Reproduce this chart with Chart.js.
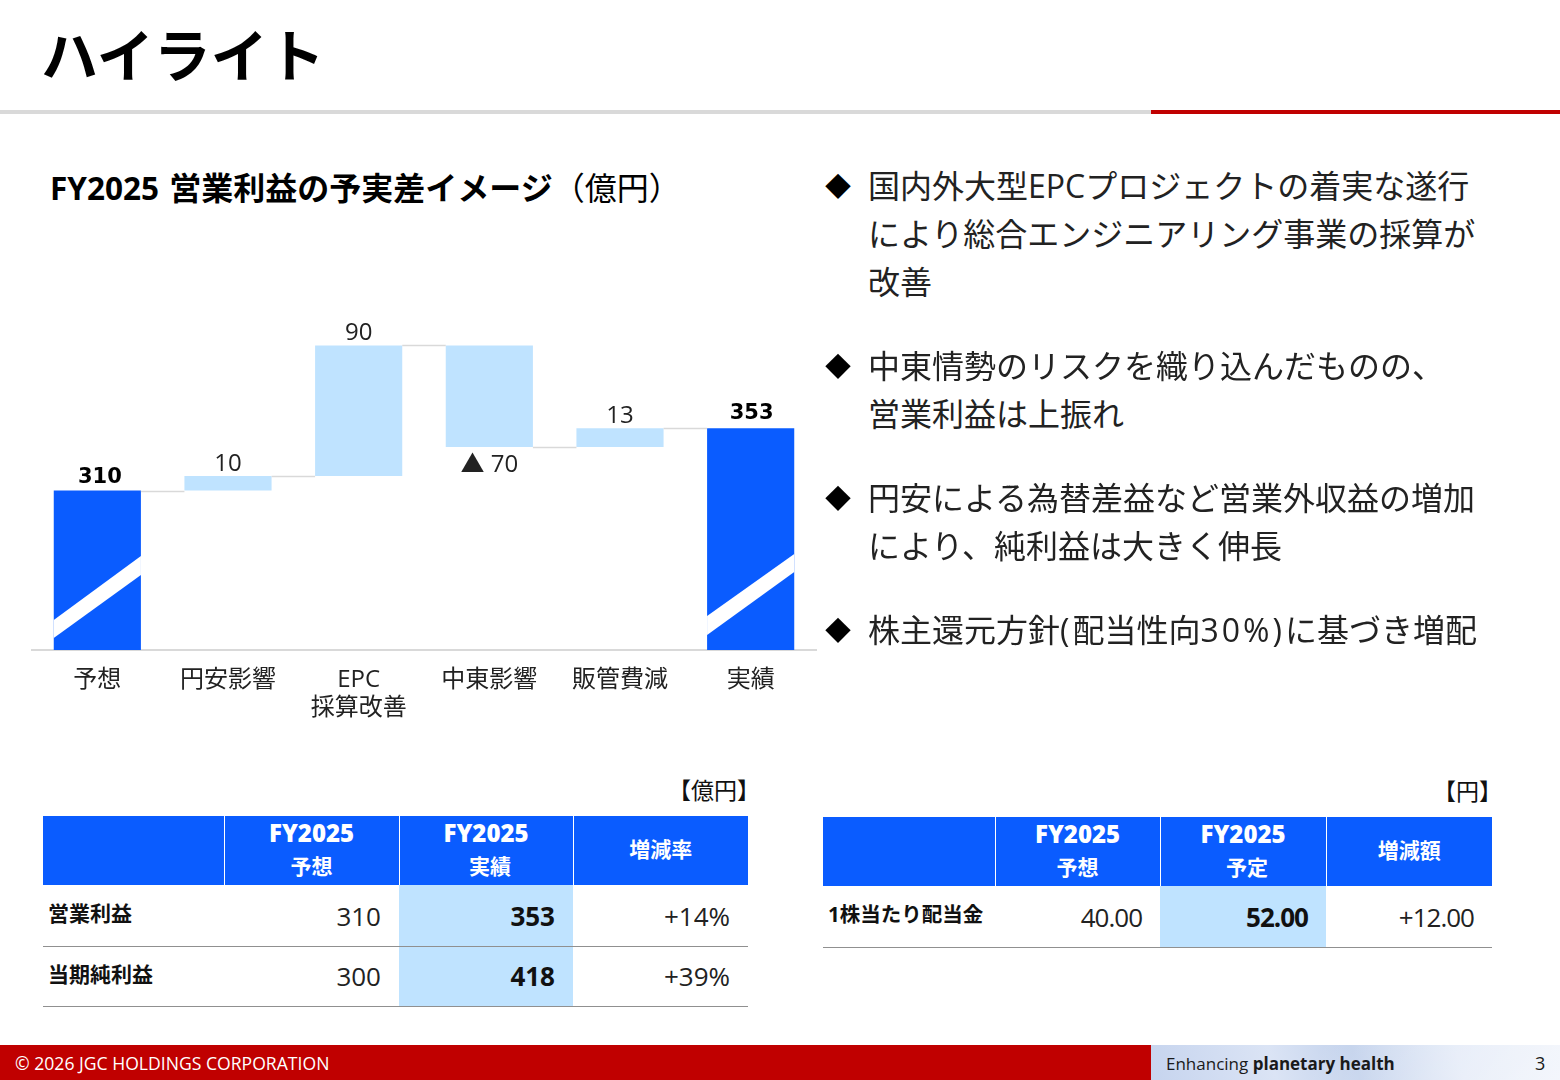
<!DOCTYPE html>
<html lang="ja">
<head>
<meta charset="utf-8">
<title>ハイライト</title>
<script src="https://cdn.jsdelivr.net/npm/chart.js@4/dist/chart.umd.min.js"></script>
<style>
html, body { margin: 0; padding: 0; background: #fff; }
body { width: 1560px; height: 1080px; position: relative; overflow: hidden; color: #1a1a1a;
  font-family: "Open Sans", "Noto Sans CJK JP", sans-serif; }
.abs { position: absolute; white-space: nowrap; }
#pageTitle { left: 41px; top: 8px; font-size: 57px; line-height: 88px; font-weight: 700; color: #000; font-family: "Noto Sans CJK JP", sans-serif; }
#ruleGrey { left: 0; top: 110px; width: 1151px; height: 4px; background: #d9d9d9; }
#ruleRed { left: 1151px; top: 110px; width: 409px; height: 4px; background: #c00000; }
#chartTitle { left: 50px; top: 166px; font-size: 32px; line-height: 44px; font-weight: 700; color: #000; }
#chartTitle span { font-weight: 400; }
#chartTitle em { font-style: normal; font-size: 31.5px; margin-right: 2px; }
#chartWrap { left: 0; top: 300px; width: 830px; height: 440px; }
.bullet { left: 825px; font-size: 26px; line-height: 48px; color: #000; }
.point { left: 868px; font-size: 32px; line-height: 48px; color: #222; }
.point span { letter-spacing: 3px; }
.unit { font-size: 23px; line-height: 30px; color: #111; }
table { position: absolute; border-collapse: collapse; table-layout: fixed; }
th { background: #0a5cff; color: #fff; font-weight: 700; font-size: 21px; line-height: 32px; padding: 0 0 3px 0; border-left: 1px solid #fff; text-align: center; }
th:first-child { border-left: 0; }
th b { font-size: 24px; }
th:nth-child(3) span { padding-left: 8px; }
td { font-size: 26px; padding: 1px 18px 0 0; text-align: right; border-bottom: 1px solid #909090; color: #222; }
tr:nth-child(3) td:not(.rowName) { padding-top: 0; padding-bottom: 1px; }
td.rowName { text-align: left; font-size: 21px; font-weight: 700; padding: 0 0 6px 5px; color: #111; }
td.hi { background: #bfe3ff; font-weight: 700; color: #111; }
.tight td:not(.rowName) { letter-spacing: -1px; }
.tight td.rowName { font-size: 20.5px; }
#footRed { left: 0; top: 1045px; width: 1151px; height: 35px; background: #c00000; color: #fff; font-size: 17.6px; line-height: 37px; }
#footRed span { margin-left: 15px; }
#footBlue { left: 1151px; top: 1045px; width: 409px; height: 35px; font-size: 17px; line-height: 37px; color: #1a1a1a;
  background: linear-gradient(115deg, rgba(255,255,255,0) 40%, rgba(255,255,255,.55) 100%), linear-gradient(75deg, #c6d4ee 0%, #dbe4f5 30%, #c3d2ec 50%, #dfe7f6 75%, #e6ecf8 100%); }
#footBlue span { margin-left: 15px; }
#footBlue i { position: absolute; left: 384px; top: 0; font-style: normal; font-size: 18px; }
</style>
</head>
<body>
<div class="abs" id="pageTitle">ハイライト</div>
<div class="abs" id="ruleGrey"></div>
<div class="abs" id="ruleRed"></div>
<div class="abs" id="chartTitle"><em>FY2025</em> 営業利益の予実差イメージ<span>（億円）</span></div>
<div class="abs" id="chartWrap"><canvas id="bridgeCanvas" width="830" height="440"></canvas></div>
<div id="points"></div>
<div id="tables"></div>
<div class="abs" id="footRed"><span>© 2026 JGC HOLDINGS CORPORATION</span></div>
<div class="abs" id="footBlue"><span>Enhancing <b>planetary health</b></span><i>3</i></div>

<script>
// bridge chart
const categories = ["予想", "円安影響", ["EPC", "採算改善"], "中東影響", "販管費減", "実績"];
const barLow = [200, 310, 320, 340, 340, 200];
const barHigh = [310, 320, 410, 410, 353, 353];
const valueLabels = ["310", "10", "90", "▲ 70", "13", "353"];
const connectorLevels = [310, 320, 410, 340, 353];

// tables
const leftHeader = [["FY2025", "予想"], ["FY2025", "実績"], ["増減率"]];
const leftRowNames = ["営業利益", "当期純利益"];
const forecastValues = ["310", "300"];
const actualValues = ["353", "418"];
const changeRates = ["+14%", "+39%"];
const rightHeader = [["FY2025", "予想"], ["FY2025", "予定"], ["増減額"]];
const rightRowNames = ["1株当たり配当金"];
const dividendForecast = ["40.00"];
const dividendPlan = ["52.00"];
const dividendChange = ["+12.00"];

const keyPoints = [
  ["国内外大型EPCプロジェクトの着実な遂行", "により総合エンジニアリング事業の採算が", "改善"],
  ["中東情勢のリスクを織り込んだものの、", "営業利益は上振れ"],
  ["円安による為替差益など営業外収益の増加", "により、純利益は大きく伸長"],
  ["株主還元方針(配当性向30%)に基づき増配"]
];

const DARK_BLUE = "#0a5cff";
const LIGHT_BLUE = "#bfe3ff";
const FONT = '"Open Sans", "Noto Sans CJK JP", sans-serif';

// bullet text
const pointTops = [162, 342, 474, 606];
let pointHtml = "";
keyPoints.forEach((lines, i) => {
  pointHtml += '<div class="abs bullet" style="top:' + pointTops[i] + 'px">◆</div>';
  lines.forEach((line, j) => {
    // latin runs are set wider in the original
    const txt = line.replace("(", "<span>(</span>").replace("30%)", "<span>30%)</span>");
    pointHtml += '<div class="abs point" style="top:' + (pointTops[i] + j * 48) + 'px">' + txt + '</div>';
  });
});
document.getElementById("points").innerHTML = pointHtml;

function buildTable(left, top, colWidths, headH, rowH, unit, unitRight, header, names, col1, col2, col3, cls) {
  let html = '<div class="abs unit" style="right:' + unitRight + 'px;top:' + (top - 41) + 'px">' + unit + '</div>';
  html += '<table class="' + cls + '" style="left:' + left + 'px;top:' + top + 'px;width:' + colWidths.reduce((a, b) => a + b) + 'px"><colgroup>';
  colWidths.forEach(w => { html += '<col style="width:' + w + 'px">'; });
  html += '</colgroup><tr style="height:' + headH + 'px"><th></th>';
  header.forEach(h => {
    html += h.length > 1 ? '<th><b>' + h[0] + '</b><br><span>' + h[1] + '</span></th>' : '<th>' + h[0] + '</th>';
  });
  html += '</tr>';
  names.forEach((n, i) => {
    html += '<tr style="height:' + (i === 0 ? rowH + 1 : rowH) + 'px"><td class="rowName">' + n + '</td><td>' + col1[i] +
      '</td><td class="hi">' + col2[i] + '</td><td>' + col3[i] + '</td></tr>';
  });
  return html + '</table>';
}
document.getElementById("tables").innerHTML =
  buildTable(43, 816, [181, 175, 174, 175], 69, 60, "【億円】", 800, leftHeader, leftRowNames, forecastValues, actualValues, changeRates, "") +
  buildTable(823, 817, [172, 165, 166, 166], 69, 60, "【円】", 58, rightHeader, rightRowNames, dividendForecast, dividendPlan, dividendChange, "tight");

// lines between the bars, labels above/below, white break slashes on the totals
const bridgeExtras = {
  id: "bridgeExtras",
  afterDatasetsDraw(chart) {
    const ctx = chart.ctx;
    const y = chart.scales.y;
    const bars = chart.getDatasetMeta(0).data;
    ctx.save();
    // break slashes, in value units: [left low, left high, right low, right high]
    const slashes = { 0: [208.3, 220.7, 251.7, 264.8], 5: [210.3, 223.4, 253.8, 266.2] };
    Object.keys(slashes).forEach(k => {
      const b = bars[k], s = slashes[k];
      const x0 = b.x - b.width / 2, x1 = b.x + b.width / 2;
      ctx.fillStyle = "#fff";
      ctx.beginPath();
      ctx.moveTo(x0, y.getPixelForValue(s[0]));
      ctx.lineTo(x0, y.getPixelForValue(s[1]));
      ctx.lineTo(x1, y.getPixelForValue(s[3]));
      ctx.lineTo(x1, y.getPixelForValue(s[2]));
      ctx.closePath();
      ctx.fill();
    });
    // connectors
    ctx.strokeStyle = "#d9d9d9";
    ctx.lineWidth = 1.5;
    connectorLevels.forEach((lv, i) => {
      const py = Math.round(y.getPixelForValue(lv)) + 0.5;
      ctx.beginPath();
      ctx.moveTo(bars[i].x + bars[i].width / 2, py);
      ctx.lineTo(bars[i + 1].x - bars[i + 1].width / 2, py);
      ctx.stroke();
    });
    // value labels
    ctx.textAlign = "center";
    ctx.textBaseline = "middle";
    valueLabels.forEach((txt, i) => {
      const total = i === 0 || i === 5;
      ctx.font = total ? '700 21px "DejaVu Sans", sans-serif' : "400 24px " + FONT;
      ctx.fillStyle = total ? "#000" : "#222";
      const down = txt.charAt(0) === "▲";
      const py = y.getPixelForValue(down ? barLow[i] : barHigh[i]);
      const off = i === 0 ? -13 : total ? -15 : -12;
      ctx.fillText(txt, bars[i].x + (i === 0 ? 2.5 : total ? 1 : 0), down ? py + 18 : py + off);
    });
    ctx.restore();
  }
};

new Chart(document.getElementById("bridgeCanvas"), {
  type: "bar",
  data: {
    labels: categories,
    datasets: [{
      data: barLow.map((v, i) => [v, barHigh[i]]),
      backgroundColor: categories.map((c, i) => (i === 0 || i === 5) ? DARK_BLUE : LIGHT_BLUE),
      borderWidth: 0,
      barPercentage: 0.667,
      categoryPercentage: 1
    }]
  },
  options: {
    responsive: false,
    animation: false,
    layout: { padding: { left: 32, right: 14, top: 31, bottom: 0 } },
    plugins: { legend: { display: false }, tooltip: { enabled: false } },
    scales: {
      x: {
        afterFit: s => { s.height = 90; },
        grid: { display: false, drawTicks: false },
        border: { color: "#d9d9d9", width: 2 },
        ticks: { color: "#222", padding: 16, maxRotation: 0, autoSkip: false, font: { size: 24, family: FONT, lineHeight: 1.17 } }
      },
      y: { display: false, min: 200, max: 420 }
    }
  },
  plugins: [bridgeExtras]
});
</script>
</body>
</html>
